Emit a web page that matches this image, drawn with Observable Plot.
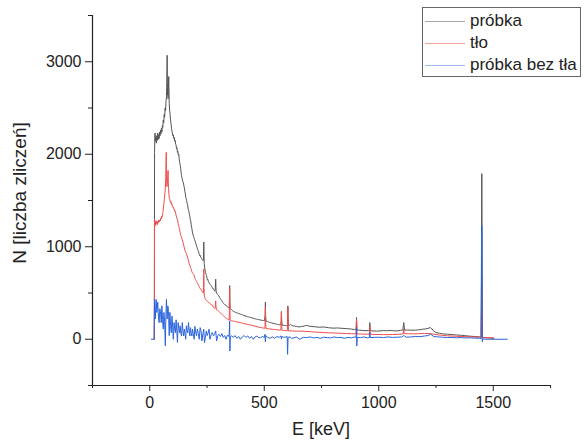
<!DOCTYPE html>
<html><head><meta charset="utf-8">
<script src="https://cdn.jsdelivr.net/npm/d3@7"></script>
<script src="https://cdn.jsdelivr.net/npm/@observablehq/plot@0.6"></script>
<style>
body{margin:0;background:#fff;}
#wrap{position:relative;width:584px;height:441px;font-family:"Liberation Sans",Arial,sans-serif;color:#222;overflow:hidden;}
#wrap svg{position:absolute;left:0;top:0;}
.xlabel{position:absolute;left:221px;width:200px;top:419px;text-align:center;font-size:18px;line-height:20px;}
.ylabel{position:absolute;left:19px;top:193px;font-size:19px;line-height:19px;white-space:nowrap;transform:translate(-50%,-50%) rotate(-90deg);}
.legend{position:absolute;left:422px;top:7px;width:157px;height:68px;border:1px solid #666;background:#fff;}
.row{position:absolute;left:2px;height:22px;display:flex;align-items:center;font-size:17px;}
.row span.l{display:inline-block;width:40px;height:0;border-top:1px solid;margin-right:5px;}
</style></head><body><div id="wrap"></div>
<script>
const probkaE = [20,21,22,23,25,27,29,31,33,35,37,39,41,43,45,47,49,51,53,55,57,59,61,63,65,67,69,71,73,74,75,76,77,78,79,80,82,83,84,85,87,89,91,93,95,97,99,101,103,105,107,109,111,113,115,117,119,121,123,125,127,129,131,133,135,137,139,141,143,145,147,149,151,153,155,157,159,161,163,165,167,169,171,173,175,177,179,181,183,185,187,189,191,193,195,197,199,201,203,205,207,209,211,213,215,217,219,221,223,225,227,229,231,233,235,236,237,238,240,242,244,246,248,250,252,254,256,258,260,263,266,269,272,275,278,281,284,286,288,289,290,293,296,299,302,305,308,311,314,317,320,323,326,329,332,335,338,341,344,347,348,349,350,351,354,357,360,363,366,370,374,378,382,386,391,396,401,406,411,416,421,426,431,436,441,446,451,456,461,466,471,476,481,486,491,496,501,504,505,506,508,513,518,523,528,533,538,543,548,553,558,563,568,572,574,575,576,578,582,587,592,597,601,602,603,604,606,610,615,620,625,632,640,647,655,662,670,677,685,692,700,720,740,760,780,800,820,840,860,880,895,901,903,905,915,930,945,955,959,961,963,975,990,1005,1020,1035,1050,1065,1080,1095,1105,1109,1113,1125,1140,1160,1175,1190,1205,1215,1225,1232,1240,1250,1265,1280,1300,1320,1340,1360,1380,1400,1420,1440,1447,1450,1453,1460,1475,1490,1502];
const probkaN = [0,2020,2180,2230,2140,2190,2120,2200,2150,2230,2160,2210,2170,2240,2200,2260,2220,2280,2240,2310,2290,2370,2340,2430,2400,2500,2470,2570,2620,2720,2900,3070,2780,2640,2700,2600,2780,2840,2700,2550,2470,2430,2360,2330,2280,2250,2230,2200,2210,2170,2180,2140,2150,2110,2100,2060,2070,2020,2030,1990,2000,1940,1910,1880,1850,1800,1770,1740,1720,1700,1690,1660,1640,1600,1580,1540,1520,1500,1470,1460,1420,1400,1380,1350,1330,1290,1280,1240,1210,1180,1150,1130,1110,1100,1080,1070,1050,1040,1020,1000,990,970,960,945,930,915,900,905,885,880,870,865,855,850,880,1050,900,820,770,740,720,700,690,660,640,645,625,620,605,595,585,580,560,555,540,530,520,540,650,560,510,495,485,475,468,450,440,428,418,405,398,385,380,372,368,358,352,348,342,338,420,580,400,335,325,322,312,305,300,296,290,286,284,280,276,270,268,262,258,252,250,245,242,238,236,232,228,225,220,218,214,212,209,207,204,203,200,260,400,250,198,192,188,183,180,176,172,169,166,165,160,158,157,155,200,300,210,152,151,150,148,147,146,250,360,240,145,150,160,150,145,142,138,136,133,138,140,145,150,145,140,135,130,133,125,120,122,118,115,110,105,100,235,100,98,95,92,95,92,180,92,90,88,90,94,92,95,92,90,96,100,180,98,100,98,98,102,108,112,118,126,112,88,72,65,58,54,50,46,43,38,33,29,26,25,1790,20,18,15,12,11];

const tloE = [20,21,22,24,26,28,30,32,34,36,38,40,42,44,46,48,50,52,54,56,58,60,62,64,66,68,70,71,72,73,74,75,76,78,79,80,81,82,84,86,88,90,92,94,96,98,100,102,104,106,108,110,112,114,116,118,120,122,124,126,128,130,132,134,136,138,140,142,144,146,148,150,152,154,156,158,160,162,164,166,168,170,172,174,176,178,180,182,184,186,188,190,192,194,196,198,200,202,204,206,208,210,212,214,216,218,220,222,224,226,228,230,232,234,235,236,237,238,240,242,244,246,248,250,252,255,258,261,265,268,272,275,278,281,284,286,288,289,291,294,297,300,303,306,309,312,315,318,321,324,327,330,333,336,339,342,345,347,348,349,350,351,354,358,362,366,370,375,380,385,390,396,403,410,417,425,432,440,447,455,462,470,477,485,492,499,503,504,505,506,508,515,522,529,536,543,550,557,565,572,574,575,576,578,584,590,596,601,602,603,604,606,620,640,660,680,700,720,740,760,780,800,820,840,860,880,901,903,905,920,940,959,961,963,980,1000,1020,1040,1060,1080,1100,1107,1109,1111,1130,1150,1175,1200,1226,1245,1270,1300,1330,1360,1390,1420,1447,1450,1453,1465,1480,1502];
const tloN = [0,1300,1240,1270,1230,1280,1250,1260,1240,1280,1260,1290,1270,1290,1280,1310,1300,1330,1320,1360,1380,1430,1470,1520,1570,1630,1760,1900,2020,1820,1700,1650,1670,1720,1780,1825,1700,1640,1560,1520,1510,1480,1490,1460,1470,1440,1440,1420,1425,1400,1405,1380,1385,1350,1330,1310,1300,1280,1250,1230,1210,1190,1160,1140,1120,1110,1090,1075,1060,1040,1020,1000,975,960,945,935,925,910,900,880,860,845,820,800,790,775,765,745,730,720,712,705,700,690,670,655,645,635,625,615,605,598,588,578,570,558,550,542,535,528,522,515,508,500,560,760,560,478,455,440,430,424,418,412,410,402,395,390,382,378,370,360,348,340,332,345,415,360,320,315,310,305,298,292,285,278,270,262,255,248,242,235,230,224,218,214,210,208,350,560,330,205,202,200,198,196,193,190,188,185,183,180,175,170,166,162,158,155,150,145,140,135,130,126,123,120,118,200,345,180,116,114,112,110,108,106,104,102,100,98,170,290,160,96,95,94,93,92,200,345,190,92,90,88,88,85,82,78,76,72,70,68,66,64,62,60,58,215,58,57,55,55,140,54,52,52,50,50,51,53,56,60,110,60,60,58,60,62,61,52,44,37,33,30,27,25,23,560,20,18,16,14];

const bezE = [7,19,21,24,28,31,35,38,41,44,47,50,53,56,59,62,65,68,70,73,76,79,82,85,88,91,94,97,100,103,106,109,112,115,118,121,124,127,130,133,136,139,142,145,148,151,154,157,160,163,166,169,172,175,178,181,184,187,190,194,197,200,204,208,212,216,220,224,228,232,236,239,243,247,251,255,259,263,268,273,278,283,288,292,297,303,309,315,321,327,333,339,345,347,349,350,352,358,365,372,380,388,396,404,412,420,428,436,444,452,460,468,476,484,492,500,503,505,507,515,525,535,545,555,565,573,575,577,585,595,600,602,604,612,620,630,640,655,670,685,700,715,730,745,760,775,790,805,820,835,850,865,880,895,901,903,904,906,920,935,950,959,961,963,980,1000,1020,1040,1060,1080,1100,1109,1120,1140,1160,1180,1200,1215,1226,1240,1260,1280,1300,1320,1340,1360,1380,1400,1420,1440,1447,1450,1452,1455,1465,1480,1561];
const bezN = [0,0,430,220,430,290,400,240,180,330,300,180,360,210,110,290,190,-70,200,430,220,360,300,40,290,150,70,250,130,0,180,110,70,210,100,-35,180,120,70,145,60,35,180,90,35,110,60,0,145,90,70,180,100,35,125,70,35,110,60,0,140,90,36,110,60,0,126,90,-18,60,108,-36,18,90,40,70,108,0,50,72,36,54,90,-18,40,54,30,60,20,40,0,45,30,60,198,-127,30,36,20,40,10,30,0,25,40,20,36,10,30,0,25,35,15,18,30,20,54,-30,40,20,10,25,10,30,20,36,5,30,20,25,30,-163,20,25,10,15,25,0,20,18,25,15,20,10,22,18,15,25,18,20,10,20,15,25,20,126,-73,20,18,25,15,18,72,18,20,22,18,25,20,22,25,40,22,25,30,28,35,40,55,30,25,22,18,20,15,18,14,16,12,10,5,1228,-26,5,0,0,0];

const seriesNames = ["próbka", "tło", "próbka bez tła"];
const seriesColors = ["#555555", "#f24c4c", "#2a64dc"];
const legendColors = ["#a8a8a8", "#f7a0a0", "#9cb8ee"];
const xDomain = [-250, 1750];
const yDomain = [-500, 3500];
const xMajor = [0, 500, 1000, 1500];
const xMinor = [-250, 250, 750, 1250, 1750];
const yMajor = [0, 1000, 2000, 3000];
const yMinor = [-500, 500, 1500, 2500, 3500];
const xTitle = "E [keV]";
const yTitle = "N [liczba zliczeń]";

const rows = (E, N, s) => E.map((e, i) => ({E: e, N: N[i], s}));
const data = [
  ...rows(probkaE, probkaN, seriesNames[0]),
  ...rows(tloE, tloN, seriesNames[1]),
  ...rows(bezE, bezN, seriesNames[2])
];

const chart = Plot.plot({
  width: 584, height: 441,
  marginLeft: 92, marginRight: 34, marginTop: 15, marginBottom: 56,
  style: {fontFamily: '"Liberation Sans", Arial, sans-serif', fontSize: "16px", color: "#222", background: "transparent"},
  x: {domain: xDomain},
  y: {domain: yDomain},
  color: {domain: seriesNames, range: seriesColors},
  marks: [
    Plot.line(data, {x: "E", y: "N", z: "s", stroke: "s", strokeWidth: 1}),
    Plot.axisX({ticks: xMajor, tickSize: 6, tickPadding: 5, tickFormat: d => String(d), label: null}),
    Plot.axisX({ticks: xMinor, tickSize: 3, tickFormat: () => "", label: null}),
    Plot.axisY({ticks: yMajor, tickSize: 7, tickPadding: 4, tickFormat: d => String(d), label: null}),
    Plot.axisY({ticks: yMinor, tickSize: 4, tickFormat: () => "", label: null}),
    Plot.ruleY([yDomain[0]], {stroke: "#222", strokeWidth: 1.2}),
    Plot.ruleX([xDomain[0]], {stroke: "#222", strokeWidth: 1.2})
  ]
});
const wrap = document.getElementById("wrap");
wrap.appendChild(chart);

const xl = document.createElement("div"); xl.className = "xlabel"; xl.textContent = xTitle; wrap.appendChild(xl);
const yl = document.createElement("div"); yl.className = "ylabel"; yl.textContent = yTitle; wrap.appendChild(yl);
const lg = document.createElement("div"); lg.className = "legend";
seriesNames.forEach((n, i) => {
  const r = document.createElement("div"); r.className = "row"; r.style.top = (2 + i * 22) + "px";
  const l = document.createElement("span"); l.className = "l"; l.style.borderTopColor = legendColors[i];
  const t = document.createElement("span"); t.textContent = n;
  r.appendChild(l); r.appendChild(t); lg.appendChild(r);
});
wrap.appendChild(lg);
</script></body></html>
